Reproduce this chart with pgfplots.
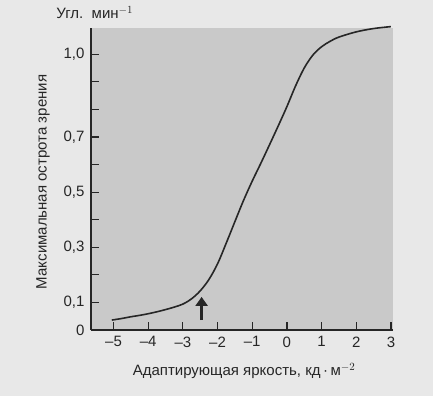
\documentclass[border=0pt]{standalone}
\usepackage{fontspec}
\setmainfont{Liberation Sans}
\usepackage{pgfplots}
\pgfplotsset{compat=1.18}
\usetikzlibrary{arrows.meta}
\definecolor{pagebg}{gray}{0.91}
\definecolor{plotbg}{gray}{0.79}
\definecolor{ink}{gray}{0.15}
\begin{document}
\begin{tikzpicture}
\fill[pagebg, use as bounding box] (-91pt,-66pt) rectangle (342pt,330pt);
\begin{axis}[
  scale only axis,
  width=302pt, height=302pt,
  xmin=-5.65, xmax=3.06,
  ymin=0, ymax=1.095,
  axis lines*=left,
  axis line style={line width=1.6pt, ink},
  axis background/.style={fill=plotbg},
  tick align=inside,
  major tick length=8pt,
  tick style={line width=1.2pt, ink},
  xtick={-5,-4,-3,-2,-1,0,1,2,3},
  xticklabels={–5,–4,–3,–2,–1,0,1,2,3},
  ytick={0,0.1,0.2,0.3,0.4,0.5,0.6,0.7,0.8,0.9,1.0},
  yticklabels={0,{0,1},,{0,3},,{0,5},,{0,7},,,{1,0}},
  every tick label/.append style={font=\fontsize{15}{17}\selectfont, text=ink},
  xticklabel style={yshift=-3pt},
  yticklabel style={xshift=-3pt},
  xlabel={Адаптирующая яркость, кд\,·\,м$^{-2}$},
  ylabel={Максимальная острота зрения},
  label style={font=\fontsize{15}{17}\selectfont, text=ink},
  xlabel style={at={(axis description cs:0.507,-0.135)}, anchor=center},
  ylabel style={at={(axis description cs:-0.159,0.49)}, anchor=center},
  clip=false,
]
\addplot[ink, line width=1.6pt, smooth, tension=0.55] coordinates {
(-5.05,0.036) (-4.75,0.042) (-4.5,0.048) (-4.25,0.053) (-4.0,0.059)
(-3.75,0.066) (-3.5,0.074) (-3.25,0.083) (-3.0,0.094) (-2.75,0.113)
(-2.5,0.142) (-2.25,0.183) (-2.0,0.24) (-1.75,0.315) (-1.5,0.393)
(-1.25,0.47) (-1.0,0.54) (-0.75,0.605) (-0.5,0.672) (-0.25,0.74)
(0.0,0.81) (0.25,0.885) (0.5,0.95) (0.75,0.997) (1.0,1.027)
(1.25,1.047) (1.5,1.062) (2.0,1.081) (2.5,1.093) (3.0,1.10)
};
\draw[ink, line width=2.8pt, -{Triangle[width=12pt,length=9pt]}]
  (axis cs:-2.46,0.036) -- (axis cs:-2.46,0.12);
\node[anchor=west, font=\fontsize{15}{17}\selectfont, text=ink]
  at (axis description cs:-0.126,1.05) {Угл.\ \ мин$^{-1}$};
\end{axis}
\end{tikzpicture}
\end{document}
